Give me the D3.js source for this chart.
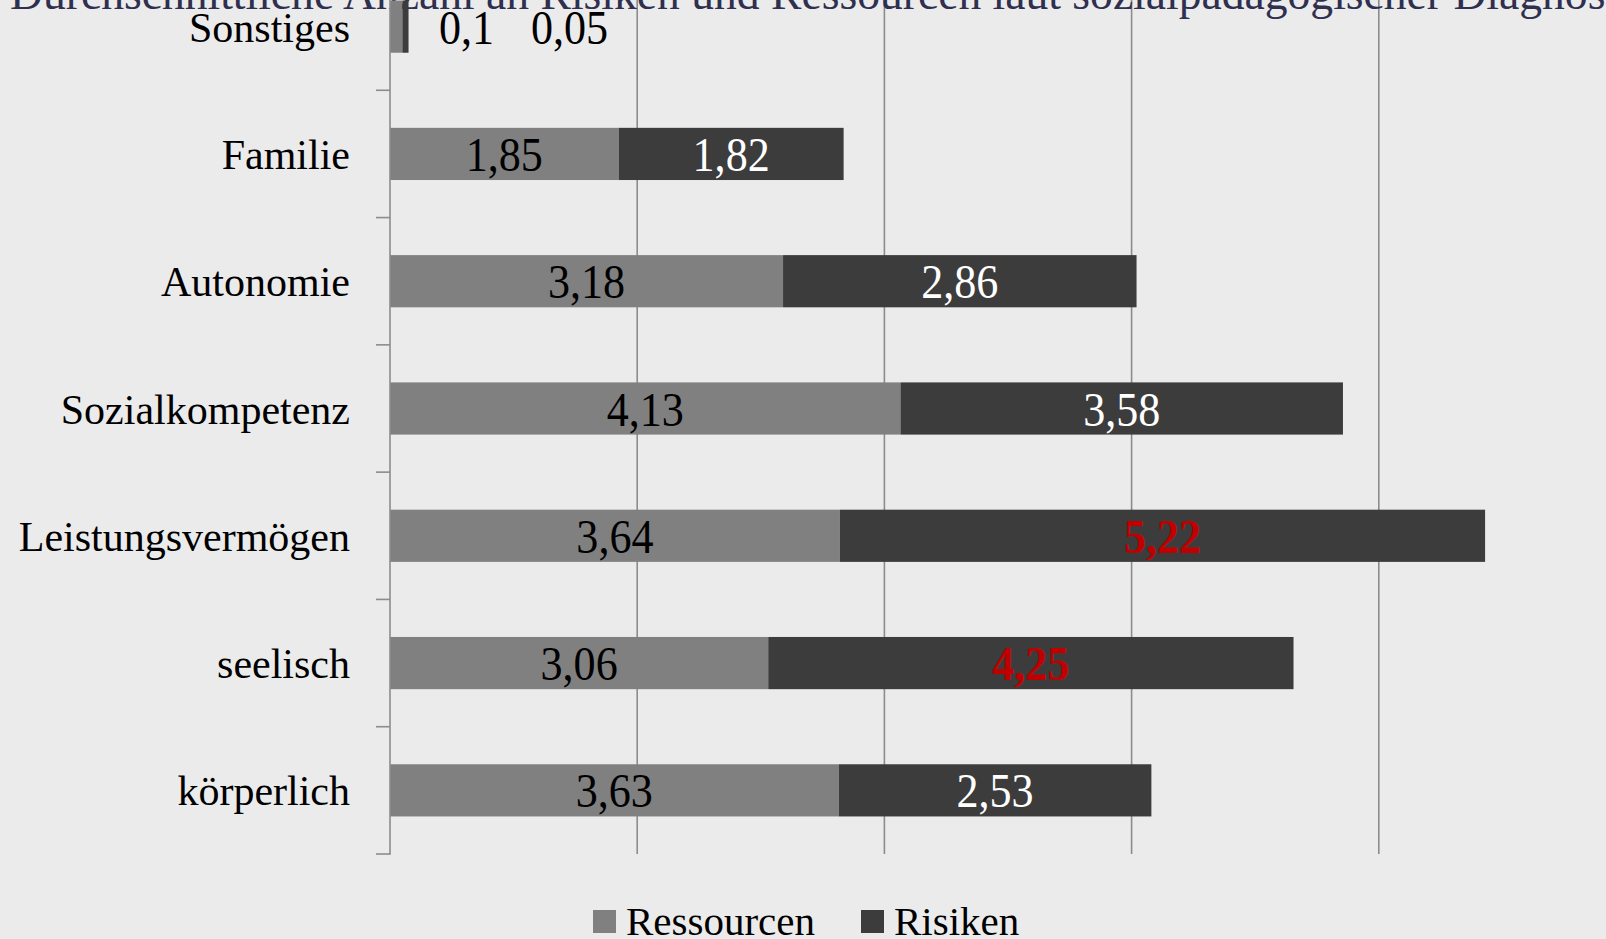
<!DOCTYPE html>
<html>
<head>
<meta charset="utf-8">
<script src="https://cdn.jsdelivr.net/npm/d3@7"></script>
<style>
  html, body { margin: 0; padding: 0; background: #EBEBEB; overflow: hidden; }
  svg { display: block; }
</style>
</head>
<body>
<svg id="chart" width="1606" height="939"></svg>
<script>
const title = "Durchschnittliche Anzahl an Risiken und Ressourcen laut sozialpädagogischer Diagnose";
const categories = ["Sonstiges", "Familie", "Autonomie", "Sozialkompetenz", "Leistungsvermögen", "seelisch", "körperlich"];
const ressourcen = [0.1, 1.85, 3.18, 4.13, 3.64, 3.06, 3.63];
const risiken = [0.05, 1.82, 2.86, 3.58, 5.22, 4.25, 2.53];
const risikenHighlight = [false, false, false, false, true, true, false];
const seriesNames = ["Ressourcen", "Risiken"];
const xTicks = [0, 2, 4, 6, 8, 10];

const colors = { Ressourcen: "#808080", Risiken: "#3C3C3C" };
const gridColor = "#8C8C8C";
const serif = "'Liberation Serif', 'Times New Roman', serif";

const svg = d3.select("#chart");
const W = 1606, H = 939;

svg.append("rect").attr("width", W).attr("height", H).attr("fill", "#EBEBEB");

const x = d3.scaleLinear().domain([0, 10]).range([390, 1626]);
const y = d3.scaleBand().domain(categories).range([-37, 854]).paddingInner(0.59).paddingOuter(0.295);
const step = y.step();

// gridlines
svg.append("g").selectAll("line").data(xTicks.filter(t => t > 0)).join("line")
  .attr("x1", d => x(d)).attr("x2", d => x(d))
  .attr("y1", -37).attr("y2", 854)
  .attr("stroke", gridColor).attr("stroke-width", 1.6);

// title (cropped at top in the reference)
svg.append("text")
  .attr("x", 10).attr("y", 9)
  .attr("font-family", serif).attr("font-size", 45.6)
  .attr("fill", "#2F2F4F")
  .text(title);

// data rows
const rows = categories.map((c, i) => ({
  cat: c, r: ressourcen[i], k: risiken[i], hl: risikenHighlight[i]
}));

const bars = svg.append("g");
bars.selectAll("rect.res").data(rows).join("rect").attr("class", "res")
  .attr("x", x(0)).attr("y", d => y(d.cat))
  .attr("width", d => x(d.r) - x(0)).attr("height", y.bandwidth())
  .attr("fill", colors.Ressourcen);
bars.selectAll("rect.ris").data(rows).join("rect").attr("class", "ris")
  .attr("x", d => x(d.r)).attr("y", d => y(d.cat))
  .attr("width", d => x(d.r + d.k) - x(d.r)).attr("height", y.bandwidth())
  .attr("fill", colors.Risiken);

// y axis line + ticks
const axisG = svg.append("g");
axisG.append("line").attr("x1", x(0)).attr("x2", x(0)).attr("y1", -37).attr("y2", 854.8)
  .attr("stroke", gridColor).attr("stroke-width", 1.6);
const boundaries = d3.range(categories.length + 1).map(i => -37 + i * step);
axisG.selectAll("line.tick").data(boundaries).join("line").attr("class", "tick")
  .attr("x1", x(0) - 14).attr("x2", x(0))
  .attr("y1", d => d).attr("y2", d => d)
  .attr("stroke", gridColor).attr("stroke-width", 1.6);

// category labels
svg.append("g").selectAll("text").data(categories).join("text")
  .attr("x", 350).attr("y", d => y(d) + y.bandwidth() / 2 + 15)
  .attr("text-anchor", "end")
  .attr("font-family", serif).attr("font-size", 42).attr("fill", "#000")
  .text(d => d);

// value labels
const fmt = v => String(v).replace(".", ",");
const labelG = svg.append("g").attr("font-family", serif);
const LBL = 49, SX = 0.9;
function addLabel(cx, cy, txt, fill, bold) {
  labelG.append("text")
    .attr("transform", `translate(${cx},${cy}) scale(${SX},1)`)
    .attr("text-anchor", "middle")
    .attr("font-size", LBL)
    .attr("font-weight", bold ? "bold" : "normal")
    .attr("fill", fill)
    .text(txt);
}
rows.forEach(d => {
  const cy = y(d.cat) + y.bandwidth() / 2 + 17;
  const wR = x(d.r) - x(0), wK = x(d.r + d.k) - x(d.r);
  if (wR > 60 && wK > 60) {
    addLabel((x(0) + x(d.r)) / 2, cy, fmt(d.r), "#000", false);
    addLabel((x(d.r) + x(d.r + d.k)) / 2, cy, fmt(d.k), d.hl ? "#C00000" : "#FFFFFF", d.hl);
  } else {
    const end = x(d.r + d.k);
    addLabel(end + 58, cy, fmt(d.r), "#000", false);
    addLabel(end + 161, cy, fmt(d.k), "#000", false);
  }
});

// legend
const legend = svg.append("g").attr("font-family", serif).attr("font-size", 41);
const legendX = [593, 861];
seriesNames.forEach((s, i) => {
  legend.append("rect").attr("x", legendX[i]).attr("y", 910).attr("width", 23).attr("height", 23)
    .attr("fill", colors[s]);
  legend.append("text").attr("x", legendX[i] + 33).attr("y", 935).attr("fill", "#000").text(s);
});
</script>
</body>
</html>
